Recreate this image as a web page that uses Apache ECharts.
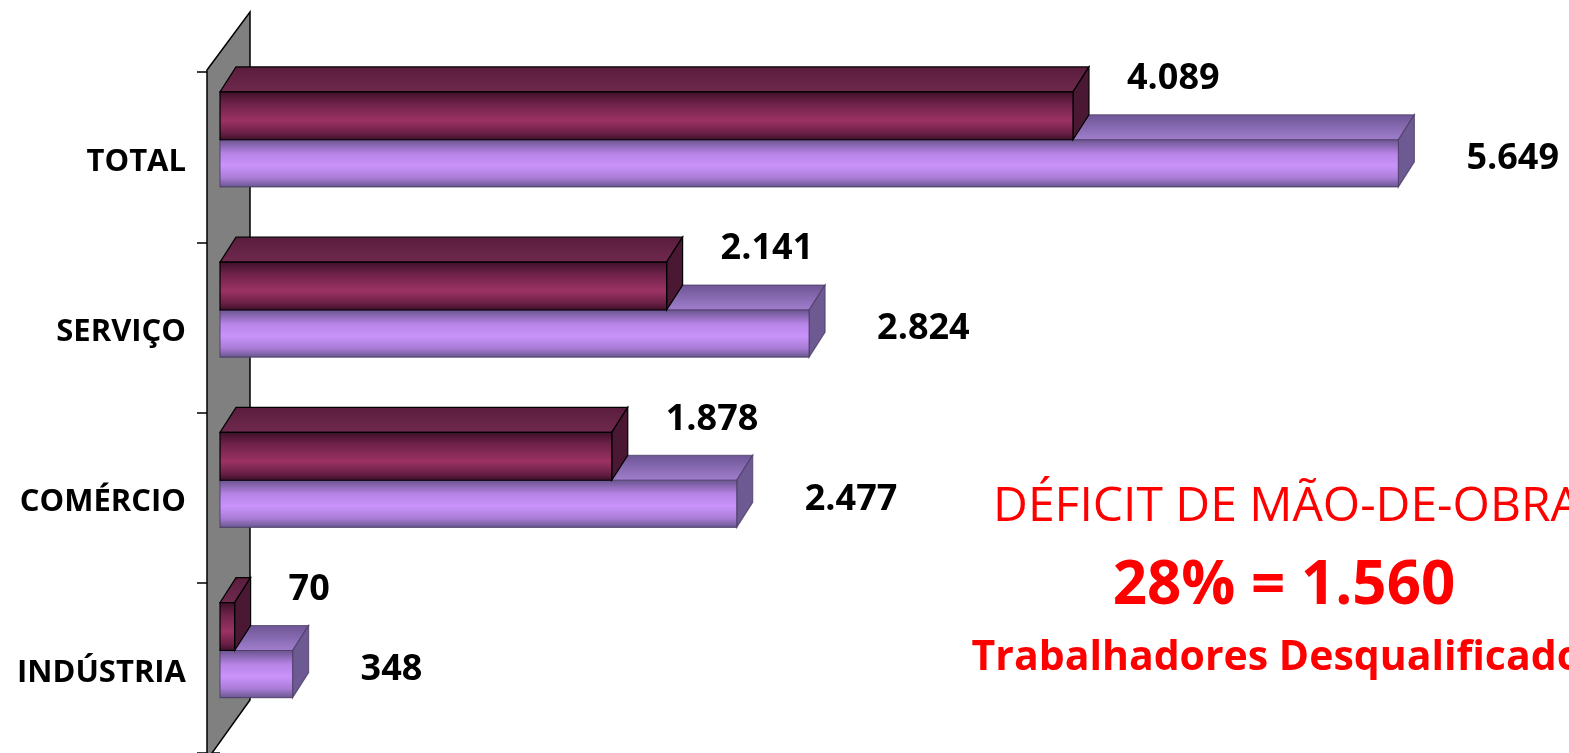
<!DOCTYPE html>
<html>
<head>
<meta charset="utf-8">
<script src="https://cdn.jsdelivr.net/npm/echarts@6/dist/echarts.min.js"></script>
<style>
    html, body { margin: 0; padding: 0; background: #fff; }
    #chart { width: 1569px; height: 753px; }
</style>
</head>
<body>
<div id="chart"></div>
<script>
var categories = ["TOTAL", "SERVIÇO", "COMÉRCIO", "INDÚSTRIA"];
var darkValues = [4089, 2141, 1878, 70];
var lightValues = [5649, 2824, 2477, 348];
var noteLines = ["DÉFICIT DE MÃO-DE-OBRA", "28% = 1.560", "Trabalhadores Desqualificados"];

var gridLeft = 220;
var gridTop = 72;
var depthX = 16;
var depthY = -25;

function fmt(v) {
    return String(v).replace(/\B(?=(\d{3})+(?!\d))/g, ".");
}

var darkColors = {
    front: [
        { offset: 0, color: "#3c0f27" },
        { offset: 0.25, color: "#6e2249" },
        { offset: 0.6, color: "#9b3264" },
        { offset: 0.85, color: "#6a2046" },
        { offset: 1, color: "#3a0f26" },
    ],
    top: [
        { offset: 0, color: "#6f2a4e" },
        { offset: 1, color: "#5a1c3c" },
    ],
    side: "#4a1832",
    stroke: "#000",
    labelDx: 54,
    labelDy: -0.46,
};

var lightColors = {
    front: [
        { offset: 0, color: "#68538c" },
        { offset: 0.3, color: "#b784e6" },
        { offset: 0.55, color: "#c993fb" },
        { offset: 0.8, color: "#a97cd6" },
        { offset: 1, color: "#66558a" },
    ],
    top: [
        { offset: 0, color: "#a27fce" },
        { offset: 1, color: "#6c5594" },
    ],
    side: "#6d5a93",
    stroke: "rgba(70,55,95,0.7)",
    labelDx: 68,
    labelDy: 0.01,
};

function barRenderer(c, topF, botF) {
    return function (params, api) {
        var val = api.value(0);
        var cat = api.value(1);
        var p0 = api.coord([0, cat]);
        var p1 = api.coord([val, cat]);
        var band = api.size([0, 1])[1];
        var yc = p0[1];
        var x0 = p0[0], x1 = p1[0];
        var top = yc + topF * band;
        var bot = yc + botF * band;
        return {
            type: "group",
            children: [
                {
                    type: "polygon",
                    shape: { points: [[x0, top], [x1, top], [x1 + depthX, top + depthY], [x0 + depthX, top + depthY]] },
                    style: {
                        fill: { type: "linear", x: 0, y: 1, x2: 0, y2: 0, colorStops: c.top },
                        stroke: c.stroke,
                        lineWidth: 1.2,
                    },
                },
                {
                    type: "polygon",
                    shape: { points: [[x1, top], [x1 + depthX, top + depthY], [x1 + depthX, bot + depthY], [x1, bot]] },
                    style: { fill: c.side, stroke: c.stroke, lineWidth: 1.2 },
                },
                {
                    type: "rect",
                    shape: { x: x0, y: top, width: x1 - x0, height: bot - top },
                    style: {
                        fill: { type: "linear", x: 0, y: 0, x2: 0, y2: 1, colorStops: c.front },
                        stroke: c.stroke,
                        lineWidth: 1.2,
                    },
                },
                {
                    type: "text",
                    style: {
                        text: fmt(val),
                        x: x1 + c.labelDx,
                        y: yc + c.labelDy * band,
                        font: "bold 36px 'Open Sans', sans-serif",
                        fill: "#000",
                        align: "left",
                        verticalAlign: "middle",
                        textAlign: "left",
                        textVerticalAlign: "middle",
                    },
                },
            ],
        };
    };
}

// grey side wall behind the bars
var wallPoints = [
    [gridLeft - 13, gridTop - 2],
    [gridLeft + 30, 12],
    [gridLeft + 30, 700],
    [gridLeft - 13, 760],
];

var option = {
    animation: false,
    backgroundColor: "#fff",
    grid: {
        left: gridLeft,
        top: gridTop,
        width: 1251.6,
        height: 682,
    },
    xAxis: {
        type: "value",
        min: 0,
        max: 6000,
        show: false,
    },
    yAxis: {
        type: "category",
        data: categories,
        inverse: true,
        offset: 13,
        z: 0,
        axisLine: { show: false },
        axisTick: {
            show: true,
            length: 23,
            lineStyle: { color: "#000", width: 1.5 },
        },
        axisLabel: {
            margin: 21,
            formatter: function (v) {
                return "{c|" + v + "}";
            },
            rich: {
                c: {
                    color: "#000",
                    fontFamily: "'Open Sans', sans-serif",
                    fontWeight: "bold",
                    fontSize: 31,
                    padding: [10, 0, 0, 0],
                },
            },
        },
        splitLine: { show: false },
    },
    graphic: [
        {
            type: "polygon",
            z: 1,
            shape: { points: wallPoints },
            style: { fill: "#808080", stroke: "#000", lineWidth: 1.5 },
        },
        {
            type: "text",
            x: 1287,
            y: 507,
            style: {
                text: noteLines[0],
                font: "48px 'Open Sans', sans-serif",
                fill: "#ff0000",
                align: "center",
                verticalAlign: "middle",
                textAlign: "center",
                textVerticalAlign: "middle",
            },
        },
        {
            type: "text",
            x: 1284,
            y: 587,
            style: {
                text: noteLines[1],
                font: "bold 60px 'Open Sans', sans-serif",
                fill: "#ff0000",
                align: "center",
                verticalAlign: "middle",
                textAlign: "center",
                textVerticalAlign: "middle",
            },
        },
        {
            type: "text",
            x: 1287,
            y: 658,
            style: {
                text: noteLines[2],
                font: "bold 41px 'Open Sans', sans-serif",
                fill: "#ff0000",
                align: "center",
                verticalAlign: "middle",
                textAlign: "center",
                textVerticalAlign: "middle",
            },
        },
    ],
    series: [
        {
            name: "light",
            type: "custom",
            z: 2,
            renderItem: barRenderer(lightColors, -0.102, 0.175),
            encode: { x: 0, y: 1 },
            data: lightValues.map(function (v, i) { return [v, i]; }),
        },
        {
            name: "dark",
            type: "custom",
            z: 3,
            renderItem: barRenderer(darkColors, -0.383, -0.102),
            encode: { x: 0, y: 1 },
            data: darkValues.map(function (v, i) { return [v, i]; }),
        },
    ],
};

var myChart = echarts.init(document.getElementById("chart"));
myChart.setOption(option);
</script>
</body>
</html>
